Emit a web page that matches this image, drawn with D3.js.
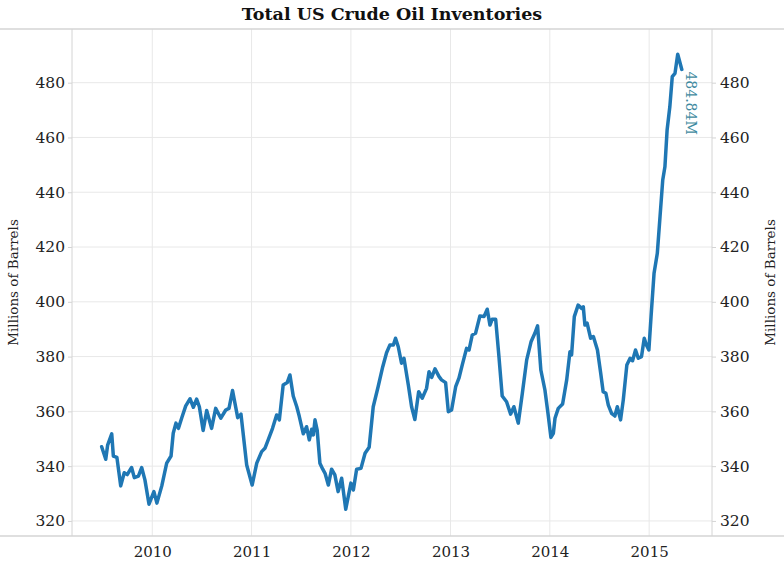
<!DOCTYPE html>
<html>
<head>
<meta charset="utf-8">
<script src="https://cdn.jsdelivr.net/npm/d3@7"></script>
<style>
  body { margin: 0; background: #fff; }
  text { font-family: "DejaVu Serif", Georgia, serif; }
</style>
</head>
<body>
<svg id="canvas"></svg>
<script>
// weekly inventory, millions of barrels
const dates = [
  "2009-06-29","2009-07-14","2009-07-21","2009-08-05","2009-08-11","2009-08-24","2009-09-07","2009-09-20",
  "2009-10-01","2009-10-17","2009-10-27","2009-11-11","2009-11-23","2009-12-05","2009-12-20","2010-01-07",
  "2010-01-18","2010-02-05","2010-02-23","2010-03-11","2010-03-19","2010-03-29","2010-04-07","2010-04-21",
  "2010-05-04","2010-05-20","2010-06-01","2010-06-13","2010-06-23","2010-07-07","2010-07-20","2010-08-07",
  "2010-08-22","2010-09-10","2010-09-28","2010-10-10","2010-10-23","2010-11-11","2010-11-23","2010-12-14",
  "2011-01-03","2011-01-20","2011-02-07","2011-02-19","2011-03-03","2011-03-19","2011-04-03","2011-04-13",
  "2011-04-27","2011-05-12","2011-05-22","2011-06-03","2011-06-16","2011-06-25","2011-07-10","2011-07-22",
  "2011-08-01","2011-08-10","2011-08-16","2011-08-22","2011-08-30","2011-09-09","2011-09-19","2011-09-28",
  "2011-10-10","2011-10-22","2011-11-03","2011-11-15","2011-11-28","2011-12-13","2012-01-01","2012-01-10",
  "2012-01-22","2012-02-07","2012-02-22","2012-03-08","2012-03-23","2012-04-10","2012-04-27","2012-05-11",
  "2012-05-23","2012-06-05","2012-06-13","2012-06-23","2012-07-05","2012-07-14","2012-07-30","2012-08-11",
  "2012-08-23","2012-09-06","2012-09-19","2012-10-05","2012-10-14","2012-10-24","2012-11-05","2012-11-20",
  "2012-11-29","2012-12-14","2012-12-24","2013-01-05","2013-01-20","2013-02-01","2013-02-13","2013-03-01",
  "2013-03-10","2013-03-22","2013-04-03","2013-04-19","2013-05-04","2013-05-16","2013-05-26","2013-06-03",
  "2013-06-16","2013-06-28","2013-07-10","2013-07-26","2013-08-10","2013-08-22","2013-09-07","2013-09-22",
  "2013-10-08","2013-10-24","2013-11-07","2013-11-17","2013-11-29","2013-12-14","2013-12-26","2014-01-05",
  "2014-01-14","2014-01-20","2014-02-01","2014-02-17","2014-03-04","2014-03-16","2014-03-22","2014-04-01",
  "2014-04-15","2014-04-28","2014-05-04","2014-05-10","2014-05-18","2014-05-31","2014-06-10","2014-06-25",
  "2014-07-07","2014-07-16","2014-07-26","2014-08-04","2014-08-16","2014-08-28","2014-09-06","2014-09-18",
  "2014-09-28","2014-10-11","2014-10-23","2014-11-01","2014-11-12","2014-11-22","2014-12-04","2014-12-14",
  "2014-12-22","2014-12-31","2015-01-08","2015-01-19","2015-01-31","2015-02-10","2015-02-20","2015-02-28",
  "2015-03-08","2015-03-18","2015-03-27","2015-04-06","2015-04-16","2015-05-01"
];
const barrels = [
  347.1,342.5,347.7,351.8,343.7,343.2,332.8,337.6,
  336.9,339.5,335.8,336.4,339.5,335.0,326.1,330.7,
  326.5,332.8,341.1,343.7,352.0,355.7,353.8,358.1,
  362.0,364.6,361.5,364.5,361.7,353.0,360.3,353.8,
  361.1,357.5,360.5,361.1,367.6,357.7,359.0,340.4,
  333.1,341.1,345.3,346.5,349.6,353.8,358.7,356.9,
  369.6,370.5,373.3,365.6,361.7,358.3,351.8,354.4,
  349.6,353.5,351.4,356.9,353.2,341.1,339.0,337.4,
  333.1,338.9,336.8,330.7,335.6,324.3,333.8,331.3,
  338.9,339.2,344.7,346.9,361.7,369.0,376.3,381.4,
  384.2,384.2,386.7,383.6,377.6,379.4,369.6,361.7,
  357.0,367.2,364.8,368.4,374.5,372.4,375.5,372.7,
  371.5,370.5,359.9,360.5,369.0,372.1,376.9,383.0,
  382.4,387.9,388.5,394.8,394.6,397.3,391.5,393.6,
  393.6,380.0,365.6,363.5,359.0,361.7,355.7,366.6,
  378.8,385.4,388.5,391.2,375.1,367.8,358.7,350.5,
  352.0,357.5,361.1,362.7,371.5,381.8,380.6,394.6,
  398.8,397.6,398.2,391.5,392.2,386.7,387.3,382.4,
  373.9,367.2,366.6,362.3,359.3,358.3,361.7,356.9,
  364.2,376.9,379.4,378.5,382.4,379.4,380.0,386.7,
  384.2,382.4,394.6,410.4,417.7,431.1,444.5,449.3,
  462.7,471.2,482.2,483.4,490.4,484.84
];
const yTicks = [320, 340, 360, 380, 400, 420, 440, 460, 480];
const xTicks = ["2010", "2011", "2012", "2013", "2014", "2015"];
const lastLabel = "484.84M";

const width = 784, height = 584;
const margin = { top: 29, right: 72, bottom: 48, left: 72 };

const svg = d3.select("#canvas").attr("width", width).attr("height", height);

const parseDate = d3.timeParse("%Y-%m-%d");
const data = dates.map((d, i) => ({ date: parseDate(d), value: barrels[i] }));

const x = d3.scaleTime()
  .domain([parseDate("2009-03-12"), parseDate("2015-08-20")])
  .range([margin.left, width - margin.right]);

const y = d3.scaleLinear()
  .domain([314.5, 499.6])
  .range([height - margin.bottom, margin.top]);

const plotBottom = height - margin.bottom;
const plotRight = width - margin.right;

// gridlines
svg.append("g")
  .selectAll("line")
  .data(yTicks)
  .join("line")
  .attr("x1", margin.left).attr("x2", plotRight)
  .attr("y1", d => y(d)).attr("y2", d => y(d))
  .attr("stroke", "#e8e8e8");

svg.append("g")
  .selectAll("line")
  .data(xTicks)
  .join("line")
  .attr("x1", d => x(parseDate(d + "-01-01"))).attr("x2", d => x(parseDate(d + "-01-01")))
  .attr("y1", margin.top).attr("y2", plotBottom)
  .attr("stroke", "#e8e8e8");

// frame lines
svg.append("line").attr("x1", 0).attr("x2", width).attr("y1", margin.top).attr("y2", margin.top)
  .attr("stroke", "#d4d4d4").attr("stroke-width", 1.5);
svg.append("line").attr("x1", 0).attr("x2", width).attr("y1", plotBottom).attr("y2", plotBottom)
  .attr("stroke", "#d4d4d4").attr("stroke-width", 1.5);
svg.append("line").attr("x1", margin.left).attr("x2", margin.left).attr("y1", margin.top).attr("y2", plotBottom)
  .attr("stroke", "#d4d4d4");
svg.append("line").attr("x1", plotRight).attr("x2", plotRight).attr("y1", margin.top).attr("y2", plotBottom)
  .attr("stroke", "#d4d4d4");

// axes
const leftAxis = svg.append("g")
  .attr("transform", `translate(${margin.left},0)`)
  .call(d3.axisLeft(y).tickValues(yTicks).tickSize(4).tickPadding(3));
const rightAxis = svg.append("g")
  .attr("transform", `translate(${plotRight},0)`)
  .call(d3.axisRight(y).tickValues(yTicks).tickSize(4).tickPadding(4));
const bottomAxis = svg.append("g")
  .attr("transform", `translate(0,${plotBottom})`)
  .call(d3.axisBottom(x).tickValues(xTicks.map(t => parseDate(t + "-01-01")))
    .tickFormat(d3.timeFormat("%Y")).tickSize(0).tickPadding(10));

[leftAxis, rightAxis, bottomAxis].forEach(a => {
  a.select(".domain").remove();
  a.selectAll(".tick line").attr("stroke", "#d4d4d4");
  a.selectAll(".tick text")
    .attr("fill", "#222")
    .style("font-family", "'DejaVu Serif', Georgia, serif")
    .style("font-size", "15.5px");
});
bottomAxis.selectAll(".tick text").style("font-size", "15px");

// axis titles
svg.append("text")
  .attr("transform", `translate(18,${(margin.top + plotBottom) / 2}) rotate(-90)`)
  .attr("text-anchor", "middle")
  .attr("fill", "#222")
  .style("font-size", "13.5px")
  .text("Millions of Barrels");
svg.append("text")
  .attr("transform", `translate(775,${(margin.top + plotBottom) / 2}) rotate(-90)`)
  .attr("text-anchor", "middle")
  .attr("fill", "#222")
  .style("font-size", "13.5px")
  .text("Millions of Barrels");

// title
svg.append("text")
  .attr("x", width / 2)
  .attr("y", 20)
  .attr("text-anchor", "middle")
  .attr("fill", "#111")
  .style("font-size", "17.5px")
  .style("font-weight", "bold")
  .text("Total US Crude Oil Inventories");

// the line
const line = d3.line()
  .x(d => x(d.date))
  .y(d => y(d.value));

svg.append("path")
  .datum(data)
  .attr("fill", "none")
  .attr("stroke", "#1f77b4")
  .attr("stroke-width", 3.5)
  .attr("stroke-linejoin", "round")
  .attr("stroke-linecap", "round")
  .attr("d", line);

// label on last point
const last = data[data.length - 1];
svg.append("text")
  .attr("transform", `translate(${x(last.date) + 4},${y(last.value) + 2}) rotate(90)`)
  .attr("text-anchor", "start")
  .attr("fill", "#3f8aa0")
  .style("font-size", "14px")
  .text(lastLabel);
</script>
</body>
</html>
